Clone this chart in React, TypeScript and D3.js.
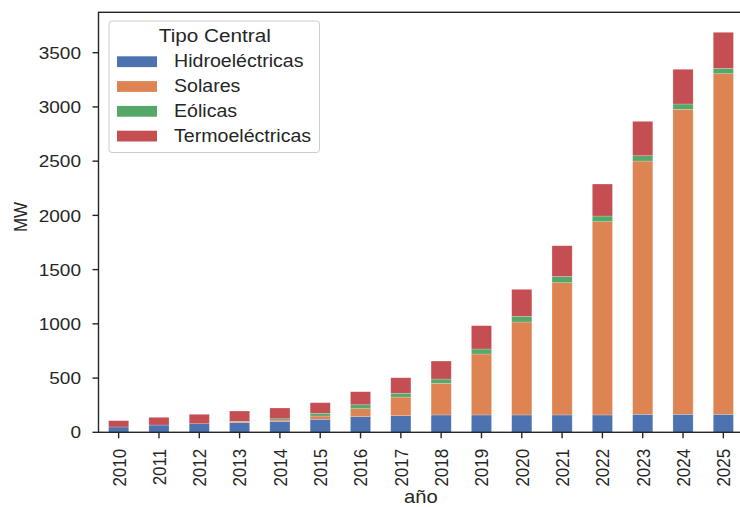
import React from "react";
import * as d3 from "d3";

const years = ["2010","2011","2012","2013","2014","2015","2016","2017","2018","2019","2020","2021","2022","2023","2024","2025"];
const hidro = [49, 67, 79, 89, 101, 120, 144, 153, 160, 160, 160, 160, 160, 166, 166, 166];
const solares = [0, 0, 0, 9, 12, 30, 74, 172, 292, 562, 857, 1219, 1782, 2335, 2812, 3140];
const eolicas = [0, 0, 0, 3, 12, 25, 36, 35, 39, 46, 53, 58, 52, 49, 49, 50];
const termo = [58, 71, 87, 95, 99, 98, 120, 143, 166, 215, 248, 283, 295, 317, 320, 332];
const seriesNames = ["Hidroeléctricas", "Solares", "Eólicas", "Termoeléctricas"];
const seriesColors = ["#4C72B0", "#DD8452", "#55A868", "#C44E52"];
const yTicks = [0, 500, 1000, 1500, 2000, 2500, 3000, 3500];

const W = 740, H = 507;
const left = 98.5, right = 743.5, top = 12.3, bottom = 432.3;
const FONT = "'Liberation Sans', Arial, sans-serif";
const AX = "#262626";
const SX = 1.12;

function T({ x, y, rot = 0, anchor = "start", size, children, dy }: any) {
  return (
    <g transform={`translate(${x},${y}) scale(${SX},1)`}>
      <text transform={rot ? `rotate(${rot})` : undefined} textAnchor={anchor} fontSize={size} dy={dy} fill={AX}>{children}</text>
    </g>
  );
}

export default function App() {
  const x = d3.scaleBand<string>().domain(years).range([left, right]).paddingInner(0.5).paddingOuter(0.25);
  const total = years.map((_, i) => hidro[i] + solares[i] + eolicas[i] + termo[i]);
  const yMax = (d3.max(total) as number) * 1.05;
  const y = d3.scaleLinear().domain([0, yMax]).range([bottom, top]);
  const rows = years.map((yr, i) => ({ year: yr, h: hidro[i], s: solares[i], e: eolicas[i], t: termo[i] }));
  const stack = d3.stack<any>().keys(["h", "s", "e", "t"])(rows);

  return (
    <svg width={W} height={H} style={{ position: "absolute", left: 0, top: 0, background: "#fff" }} fontFamily={FONT}>
      <rect x={0} y={0} width={W} height={H} fill="#fff" />
      {stack.map((layer, li) => (
        <g key={li} fill={seriesColors[li]}>
          {layer.map((d, i) => {
            const h = y(d[0]) - y(d[1]);
            if (h <= 0) return null;
            return (
              <rect key={i} x={x(years[i])} y={y(d[1])} width={x.bandwidth()} height={h}
                stroke="#ffffff" strokeOpacity={0.35} strokeWidth={0.6} />
            );
          })}
        </g>
      ))}
      <rect x={left} y={top} width={right - left} height={bottom - top} fill="none" stroke={AX} strokeWidth={1.4} />
      {yTicks.map((t) => (
        <g key={t}>
          <line x1={left - 6} x2={left} y1={y(t)} y2={y(t)} stroke={AX} strokeWidth={1.4} />
          <T x={81} y={y(t)} anchor="end" size={17} dy="0.36em">{t}</T>
        </g>
      ))}
      {years.map((yr) => {
        const cx = (x(yr) as number) + x.bandwidth() / 2;
        return (
          <g key={yr}>
            <line x1={cx} x2={cx} y1={bottom} y2={bottom + 6} stroke={AX} strokeWidth={1.4} />
            <T x={cx} y={bottom + 16.5} rot={-90} anchor="end" size={17} dy="0.36em">{yr}</T>
          </g>
        );
      })}
      <T x={420.8} y={503} anchor="middle" size={18}>año</T>
      <T x={27} y={217} rot={-90} anchor="middle" size={17}>MW</T>
      <g>
        <rect x={109} y={21} width={210.5} height={131.5} rx={3} fill="#fff" fillOpacity={0.8} stroke="#cccccc" strokeWidth={1} />
        <T x={214.8} y={41.7} anchor="middle" size={18.5}>Tipo Central</T>
        {seriesNames.map((n, i) => (
          <g key={n}>
            <rect x={117} y={56.3 + i * 24.8} width={40} height={10.8} fill={seriesColors[i]} />
            <T x={174} y={67.3 + i * 24.8} size={17.5}>{n}</T>
          </g>
        ))}
      </g>
    </svg>
  );
}
